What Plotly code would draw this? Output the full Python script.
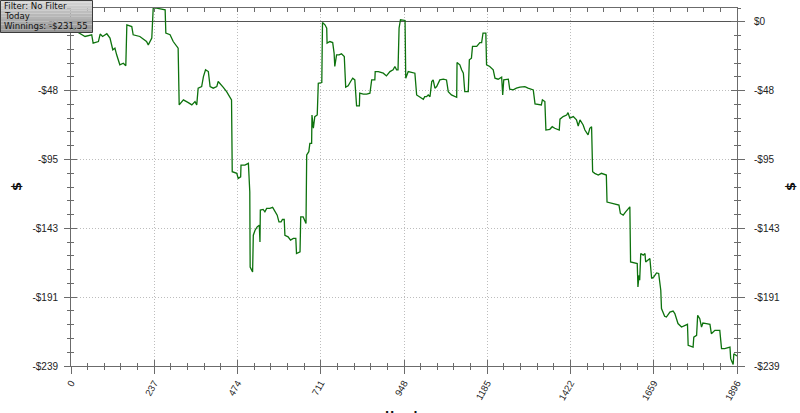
import plotly.graph_objects as go

# ---- data ----
hands = [
    0, 16, 40, 59, 63, 78, 83, 90, 102, 111,
    119, 125, 130, 135, 139, 149, 156, 159, 173, 177,
    196, 215, 220, 230, 234, 244, 268, 270, 282, 291,
    305, 308, 320, 334, 344, 353, 358, 362, 372, 377,
    383, 391, 396, 405, 415, 419, 429, 433, 443, 457,
    459, 472, 476, 483, 484, 495, 505, 507, 509, 510,
    517, 519, 524, 530, 536, 538, 539, 547, 552, 557,
    566, 574, 581, 587, 592, 598, 602, 607, 609, 618,
    625, 633, 640, 642, 652, 654, 661, 669, 671, 677,
    680, 685, 686, 690, 694, 701, 704, 714, 716, 723,
    728, 729, 737, 745, 749, 751, 756, 763, 770, 778,
    782, 789, 796, 802, 808, 813, 821, 822, 832, 842,
    851, 856, 865, 866, 875, 889, 898, 908, 917, 922,
    927, 931, 934, 938, 951, 953, 960, 974, 979, 984,
    993, 1003, 1007, 1012, 1017, 1022, 1027, 1031, 1036, 1041,
    1050, 1060, 1069, 1074, 1083, 1098, 1099, 1107, 1112, 1117,
    1121, 1131, 1134, 1140, 1143, 1155, 1164, 1169, 1173, 1181,
    1183, 1192, 1202, 1207, 1216, 1226, 1229, 1232, 1245, 1249,
    1259, 1268, 1278, 1292, 1301, 1316, 1321, 1339, 1342, 1349,
    1352, 1363, 1370, 1377, 1390, 1392, 1401, 1411, 1415, 1420,
    1430, 1439, 1444, 1449, 1458, 1463, 1472, 1477, 1482, 1485,
    1491, 1501, 1510, 1524, 1526, 1534, 1548, 1560, 1564, 1572,
    1579, 1586, 1591, 1593, 1605, 1612, 1614, 1617, 1619, 1622,
    1629, 1634, 1636, 1643, 1648, 1653, 1659, 1667, 1673, 1679,
    1681, 1690, 1695, 1705, 1714, 1719, 1728, 1738, 1747, 1755,
    1757, 1771, 1773, 1781, 1784, 1790, 1795, 1799, 1809, 1819,
    1823, 1833, 1847, 1852, 1861, 1871, 1876, 1878, 1883, 1885,
    1887, 1896,
]
winnings = [
    -3.5, -6.7, -10.2, -9.0, -14.8, -13.7, -8.5, -10.2, -8.3, -11.3,
    -19.4, -18.3, -22.9, -27.6, -29.8, -28.7, -30.5, -2.1, -3.3, -9.0,
    -10.2, -13.7, -16.0, -11.3, 9.4, 9.4, 8.3, -7.8, -9.0, -13.7,
    -18.3, -57.6, -54.1, -56.0, -57.6, -55.3, -57.6, -46.0, -44.9, -38.0,
    -33.3, -34.5, -44.9, -46.0, -44.9, -41.4, -43.7, -45.3, -48.4, -54.1,
    -103.9, -105.0, -108.5, -107.4, -99.3, -99.3, -98.1, -117.8, -117.8, -169.9,
    -173.3, -147.9, -144.4, -142.1, -140.9, -152.5, -130.5, -130.0, -131.7, -129.3,
    -129.3, -128.6, -131.7, -134.0, -138.6, -138.6, -137.0, -137.0, -147.9, -149.0,
    -151.3, -150.1, -150.1, -160.6, -159.4, -135.2, -135.2, -139.7, -92.3, -90.0,
    -84.2, -84.2, -64.6, -73.8, -65.7, -64.6, -42.6, -42.1, -0.5, -2.1,
    -4.4, -14.8, -13.7, -14.4, -21.7, -31.0, -22.9, -22.9, -22.2, -24.1,
    -45.3, -44.4, -41.4, -39.1, -40.3, -58.3, -58.3, -49.5, -50.2, -50.2,
    -49.5, -40.3, -40.3, -34.5, -34.5, -35.6, -37.5, -34.5, -33.3, -31.0,
    -33.3, -33.3, -4.4, 1.4, 0.9, -39.1, -34.5, -35.2, -35.6, -50.7,
    -51.9, -53.7, -51.9, -51.9, -50.7, -51.9, -41.4, -40.3, -46.0, -44.9,
    -40.3, -39.8, -40.3, -48.4, -50.7, -52.3, -28.3, -29.8, -33.3, -35.6,
    -48.4, -48.4, -26.4, -25.2, -17.1, -17.1, -14.4, -14.4, -7.8, -7.8,
    -29.8, -31.0, -33.3, -39.1, -39.8, -38.4, -50.7, -40.3, -39.8, -46.7,
    -47.2, -46.0, -45.3, -44.9, -46.0, -47.2, -56.9, -57.6, -54.1, -55.3,
    -75.0, -74.5, -72.7, -73.8, -75.0, -67.5, -65.7, -64.6, -63.0, -66.8,
    -65.7, -68.0, -72.2, -68.0, -71.5, -75.0, -78.4, -73.8, -72.7, -103.9,
    -105.0, -106.2, -105.0, -106.2, -124.9, -125.4, -126.3, -127.0, -132.8, -134.0,
    -131.7, -130.0, -128.2, -166.4, -167.1, -167.5, -183.7, -175.6, -179.1, -160.6,
    -161.7, -160.6, -166.4, -165.2, -164.0, -177.9, -176.8, -174.0, -174.4, -186.0,
    -198.7, -204.1, -204.6, -201.1, -200.4, -202.2, -209.1, -211.5, -210.3, -209.6,
    -224.2, -225.4, -218.5, -217.3, -203.4, -205.7, -211.5, -208.7, -209.1, -209.6,
    -216.1, -213.8, -213.8, -226.5, -226.5, -225.4, -225.4, -233.4, -237.4, -237.4,
    -230.0, -231.55,
]

x_ticks = [0, 237, 474, 711, 948, 1185, 1422, 1659, 1896]
x_labels = [str(v) for v in x_ticks]
y_ticks = [0, -47.7, -95.4, -143.1, -190.8, -238.5]
y_labels = ["$0", "-$48", "-$95", "-$143", "-$191", "-$239"]
y_min, y_max = -238.5, 9.54
x_min, x_max = 0, 1896
x_minor = 47.4
y_minor = 9.54

legend_lines = ["Filter: No Filter", "Today", "Winnings: -$231.55"]

# ---- layout geometry ----
W, H = 800, 413
L, R, T, B = 71, 63, 8, 47
PW, PH = W - L - R, H - T - B

def px_x(px):
    return (px - L) / PW

def px_y(py):
    return (H - B - py) / PH

AX = "#6b6b6b"
GRID = "#bdbdbd"
TXT = "#222222"
FONT = "Liberation Sans"
DOT = "1px,2px"

fig = go.Figure()
fig.add_trace(go.Scatter(
    x=hands, y=winnings, mode="lines",
    line=dict(color="#0d720d", width=1.3),
    hoverinfo="skip", showlegend=False,
))
# invisible helper traces so the overlay axes are drawn
for xa, ya in [("x2", "y2"), ("x3", "y3"), ("x3", "y4")]:
    fig.add_trace(go.Scatter(x=[x_min], y=[y_min], mode="markers",
                             marker=dict(opacity=0), xaxis=xa, yaxis=ya,
                             hoverinfo="skip", showlegend=False))

common_x = dict(range=[x_min, x_max], fixedrange=True, zeroline=False, automargin=False)
common_y = dict(range=[y_min, y_max], fixedrange=True, automargin=False)

fig.update_layout(
    width=W, height=H, autosize=False,
    margin=dict(l=L, r=R, t=T, b=B, pad=0),
    paper_bgcolor="white", plot_bgcolor="white",
    font=dict(family=FONT, size=10, color=TXT),
    hovermode=False,
    xaxis=dict(
        **common_x,
        tickmode="array", tickvals=x_ticks, ticktext=x_labels,
        tickangle=-60, tickfont=dict(size=9.5, color=TXT, family=FONT),
        ticks="outside", ticklen=7, tickcolor=AX, tickwidth=1,
        minor=dict(ticks="outside", ticklen=3, tickcolor=AX, dtick=x_minor, tick0=0, showgrid=False),
        showline=True, linecolor=AX, linewidth=1,
        showgrid=True, gridcolor=GRID, griddash=DOT, gridwidth=1,
    ),
    xaxis2=dict(
        **common_x, overlaying="x", side="top", anchor="y",
        tickmode="array", tickvals=x_ticks, showticklabels=False,
        ticks="inside", ticklen=4, tickcolor=AX,
        minor=dict(ticks="inside", ticklen=4, tickcolor=AX, dtick=x_minor, tick0=0, showgrid=False),
        showline=True, linecolor=AX, linewidth=1, showgrid=False,
    ),
    xaxis3=dict(
        **common_x, overlaying="x", side="bottom", anchor="y",
        tickmode="array", tickvals=x_ticks, showticklabels=False,
        ticks="inside", ticklen=6, tickcolor=AX,
        minor=dict(ticks="inside", ticklen=3, tickcolor=AX, dtick=x_minor, tick0=0, showgrid=False),
        showline=False, showgrid=False,
    ),
    yaxis=dict(
        **common_y,
        tickmode="array", tickvals=y_ticks, ticktext=y_labels,
        tickfont=dict(size=10, color=TXT, family=FONT),
        ticks="outside", ticklen=6, tickcolor=AX, ticklabelstandoff=4,
        minor=dict(ticks="outside", ticklen=3, tickcolor=AX, dtick=y_minor, tick0=0, showgrid=False),
        showline=True, linecolor=AX, linewidth=1,
        showgrid=True, gridcolor=GRID, griddash=DOT, gridwidth=1,
        zeroline=True, zerolinecolor="#555555", zerolinewidth=1,
    ),
    yaxis2=dict(
        **common_y, overlaying="y", side="right", anchor="x",
        tickmode="array", tickvals=y_ticks, ticktext=y_labels,
        tickfont=dict(size=10, color=TXT, family=FONT),
        ticks="outside", ticklen=7, tickcolor=AX, ticklabelstandoff=7,
        minor=dict(ticks="outside", ticklen=3, tickcolor=AX, dtick=y_minor, tick0=0, showgrid=False),
        showline=True, linecolor=AX, linewidth=1, showgrid=False, zeroline=False,
    ),
    yaxis3=dict(
        **common_y, overlaying="y", side="left", anchor="x",
        tickmode="array", tickvals=y_ticks, showticklabels=False,
        ticks="inside", ticklen=6, tickcolor=AX,
        minor=dict(ticks="inside", ticklen=3, tickcolor=AX, dtick=y_minor, tick0=0, showgrid=False),
        showline=False, showgrid=False, zeroline=False,
    ),
    yaxis4=dict(
        **common_y, overlaying="y", side="right", anchor="x",
        tickmode="array", tickvals=y_ticks, showticklabels=False,
        ticks="inside", ticklen=6, tickcolor=AX,
        minor=dict(ticks="inside", ticklen=3, tickcolor=AX, dtick=y_minor, tick0=0, showgrid=False),
        showline=False, showgrid=False, zeroline=False,
    ),
)

# ---- info box (gradient by stacked bands) ----
box_w, box_h = 92.5, 32.5
n_bands = 12
c_top, c_bot = (214, 214, 214), (150, 150, 150)
shapes = []
for i in range(n_bands):
    f = i / (n_bands - 1)
    c = tuple(int(c_top[k] + (c_bot[k] - c_top[k]) * f) for k in range(3))
    y0p = box_h * i / n_bands
    y1p = box_h * (i + 1) / n_bands
    shapes.append(dict(type="rect", xref="paper", yref="paper", layer="above",
                       x0=px_x(0), x1=px_x(box_w), y0=px_y(y1p), y1=px_y(y0p),
                       fillcolor="rgb(%d,%d,%d)" % c, line=dict(width=0)))
shapes.append(dict(type="rect", xref="paper", yref="paper", layer="above",
                   x0=px_x(0.5), x1=px_x(box_w), y0=px_y(box_h), y1=px_y(0.5),
                   fillcolor="rgba(0,0,0,0)", line=dict(color="#3c3c3c", width=1)))
fig.update_layout(shapes=shapes)

annotations = []
for i, t in enumerate(legend_lines):
    annotations.append(dict(text=t, xref="paper", yref="paper",
                            x=px_x(2.5), y=px_y(5.8 + 10.2 * i),
                            xanchor="left", yanchor="middle", showarrow=False,
                            height=10, borderpad=0,
                            font=dict(family="DejaVu Sans", size=8.6, color="#111111")))
# axis titles
annotations.append(dict(text="<b>$</b>", xref="paper", yref="paper",
                        x=px_x(16), y=px_y(187), textangle=-90,
                        xanchor="center", yanchor="middle", showarrow=False,
                        font=dict(family="DejaVu Sans", size=13, color="#111111")))
annotations.append(dict(text="<b>$</b>", xref="paper", yref="paper",
                        x=px_x(790), y=px_y(187), textangle=-90,
                        xanchor="center", yanchor="middle", showarrow=False,
                        font=dict(family="DejaVu Sans", size=13, color="#111111")))
annotations.append(dict(text="<b>Hands</b>", xref="paper", yref="paper",
                        x=px_x(404), y=px_y(407), xanchor="center", yanchor="top",
                        showarrow=False,
                        font=dict(family="DejaVu Sans", size=11, color="#111111")))
fig.update_layout(annotations=annotations)

fig.write_html("out.html",
               config={"displayModeBar": False, "staticPlot": True},
               post_script="document.body.style.margin='0px';document.body.style.overflow='hidden';")
